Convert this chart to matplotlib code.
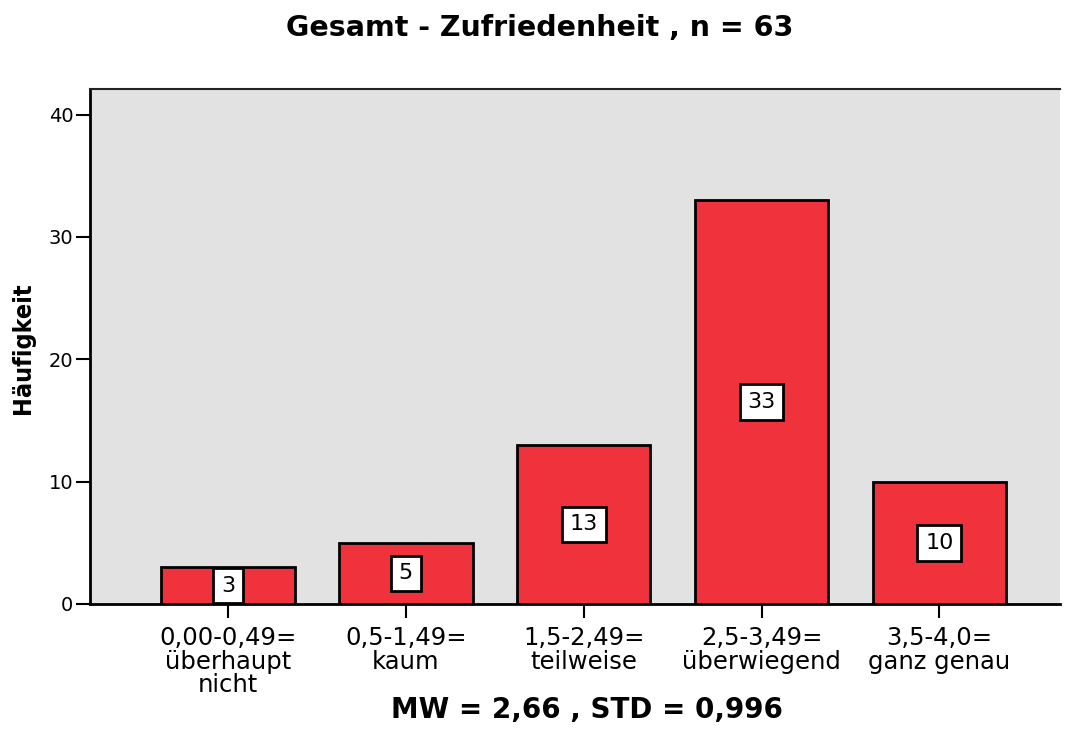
import numpy as np
import matplotlib
matplotlib.use("Agg")
import matplotlib.pyplot as plt
from matplotlib import font_manager

# Data
categories = ["0,00-0,49=\nüberhaupt\nnicht", "0,5-1,49=\nkaum", "1,5-2,49=\nteilweise",
              "2,5-3,49=\nüberwiegend", "3,5-4,0=\nganz genau"]
counts = [3, 5, 13, 33, 10]
yticks = [0, 10, 20, 30, 40]

plt.rcParams['font.family'] = ['DejaVu Sans']

# narrow bold font for the y label, if one is installed
narrow = [f.fname for f in font_manager.fontManager.ttflist
          if ('Narrow' in f.fname or 'Condensed' in f.fname) and 'Bold' in f.fname
          and 'Oblique' not in f.fname and 'Italic' not in f.fname]

fig = plt.figure(figsize=(10.65, 7.29), dpi=100)
ax = fig.add_axes([0.0845, 0.1715, 0.911, 0.7065])
ax.set_facecolor('#e2e2e2')

x = np.arange(len(categories))
ax.bar(x, counts, width=0.75, color='#ef323b', edgecolor='black', linewidth=2, zorder=2)

# value labels in white boxes, centered in each bar
for xi, c in zip(x, counts):
    ax.text(xi, c / 2, str(c), ha='center', va='center', fontsize=16, zorder=3,
            bbox=dict(boxstyle='square,pad=0.35', facecolor='white', edgecolor='black', linewidth=2))

ax.set_xlim(-0.777, 4.68)
ax.set_ylim(0, 42.1)
ax.set_xticks(x)
ax.set_xticklabels(categories, fontsize=17.5, linespacing=0.98)
ax.set_yticks(yticks)
ax.tick_params(axis='y', labelsize=14, length=10, width=1.5, direction='out', pad=2)
ax.tick_params(axis='x', length=10, width=1.5, direction='out', pad=6)

for s in ['left', 'bottom']:
    ax.spines[s].set_linewidth(2)
    ax.spines[s].set_color('black')
ax.spines['top'].set_linewidth(1.5)
ax.spines['top'].set_color('#222222')
ax.spines['right'].set_visible(False)

fig.text(0.507, 0.962, "Gesamt - Zufriedenheit , n = 63", ha='center', va='center',
         fontsize=20.5, fontweight='bold')
fig.text(0.551, 0.026, "MW = 2,66 , STD = 0,996", ha='center', va='center',
         fontsize=20, fontweight='bold')
if narrow:
    fp = font_manager.FontProperties(fname=narrow[0], size=18)
else:
    fp = font_manager.FontProperties(family='DejaVu Sans', weight='bold', size=12.5)
fig.text(0.022, 0.522, "Häufigkeit", rotation=90, ha='center', va='center', fontproperties=fp)

fig.savefig("out.png", dpi=100)
